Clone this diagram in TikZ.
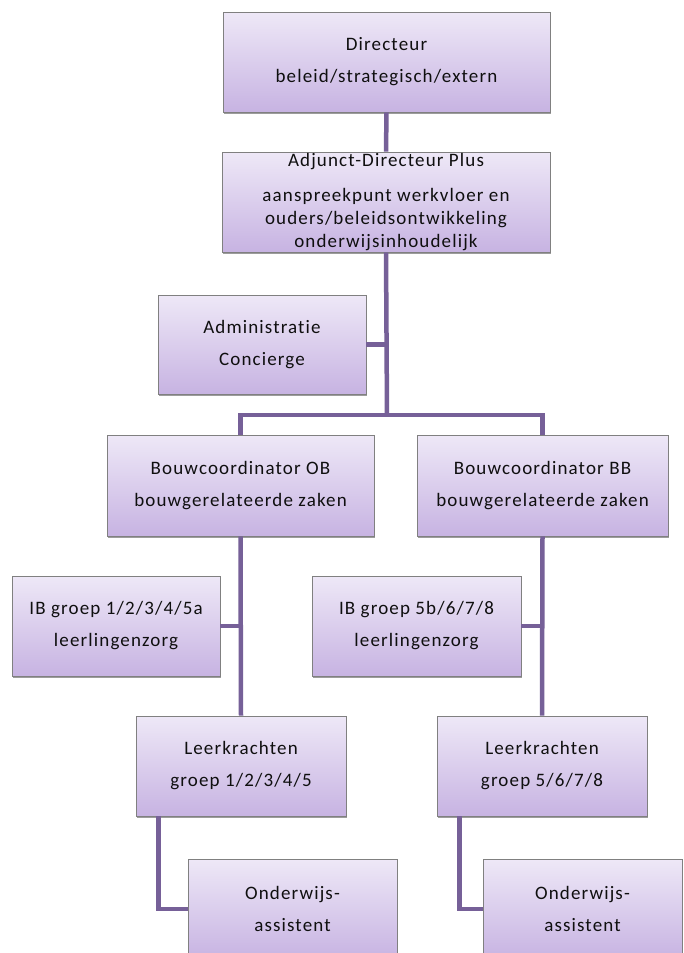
\documentclass[tikz,border=0pt]{standalone}
\usepackage{fontspec}
\setmainfont[LetterSpace=6,Ligatures=NoCommon]{Carlito}
\usetikzlibrary{shadows}
\definecolor{boxtop}{RGB}{238,232,247}
\definecolor{boxbot}{RGB}{199,179,226}
\definecolor{boxedge}{RGB}{128,128,128}
\definecolor{conn}{RGB}{118,96,152}
\definecolor{txt}{RGB}{15,15,15}
\tikzset{
  orgbox/.style={rectangle, draw=boxedge, line width=0.8pt, top color=boxtop, bottom color=boxbot,
    align=center, font=\fontsize{19}{23}\selectfont, text=txt, inner sep=0pt,
    drop shadow={shadow xshift=0.8pt, shadow yshift=-1.6pt, opacity=0.55, fill=black!70}},
  link/.style={draw=conn, line width=4.5pt}
}
\begin{document}
\begin{tikzpicture}[x=1pt,y=-1pt]
\useasboundingbox (0,0) rectangle (683,953);
\fill[white] (0,0) rectangle (683,953);

\node[orgbox, minimum width=327pt, minimum height=100pt] (dir) at (386.5,62) {Directeur\\[9pt]beleid/strategisch/extern};
\node[orgbox, minimum width=328pt, minimum height=100pt] (adj) at (386,202) {Adjunct-Directeur Plus\\[12pt]aanspreekpunt werkvloer en\\ouders/beleidsontwikkeling\\onderwijsinhoudelijk};
\node[orgbox, minimum width=208pt, minimum height=99pt] (adm) at (262,344.5) {Administratie\\[9pt]Concierge};
\node[orgbox, minimum width=267pt, minimum height=101pt] (bob) at (240.5,485.5) {Bouwcoordinator OB\\[9pt]bouwgerelateerde zaken};
\node[orgbox, minimum width=251pt, minimum height=101pt] (bbb) at (542.5,485.5) {Bouwcoordinator BB\\[9pt]bouwgerelateerde zaken};
\node[orgbox, minimum width=208pt, minimum height=100pt] (iob) at (116,626) {IB groep 1/2/3/4/5a\\[9pt]leerlingenzorg};
\node[orgbox, minimum width=209pt, minimum height=100pt] (ibb) at (416.5,626) {IB groep 5b/6/7/8\\[9pt]leerlingenzorg};
\node[orgbox, minimum width=210pt, minimum height=100pt] (lob) at (241,766) {Leerkrachten\\[9pt]groep 1/2/3/4/5};
\node[orgbox, minimum width=210pt, minimum height=100pt] (lbb) at (542,766) {Leerkrachten\\[9pt]groep 5/6/7/8};
\node[orgbox, minimum width=209pt, minimum height=100pt] (oob) at (292.5,909) {Onderwijs-\\[9pt]assistent};
\node[orgbox, minimum width=199pt, minimum height=100pt] (obb) at (582.5,909) {Onderwijs-\\[9pt]assistent};

\coordinate (bus) at (387,415);

\draw[link] (dir.south) -- (adj.north);
\draw[link] (adj.south) -- (bus);
\draw[link] (adm.east) -- (adm.east -| bus);
\draw[link] (bob.north) |- (bus) -| (bbb.north);
\draw[link] (bob.south) -- (lob.north);
\draw[link] (iob.east) -- (iob.east -| bob.south);
\draw[link] (bbb.south) -- (lbb.north);
\draw[link] (ibb.east) -- (ibb.east -| bbb.south);
\draw[link] ([xshift=23pt]lob.south west) |- (oob.west);
\draw[link] ([xshift=23pt]lbb.south west) |- (obb.west);
\end{tikzpicture}
\end{document}
